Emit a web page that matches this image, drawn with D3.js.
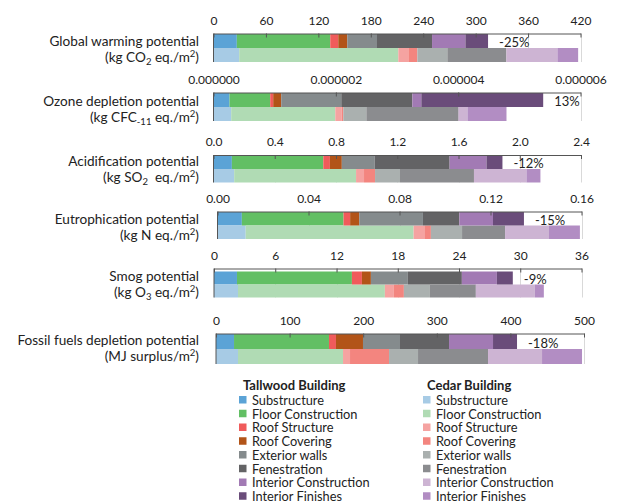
<!DOCTYPE html>
<html>
<head>
<meta charset="utf-8">
<script src="https://cdn.jsdelivr.net/npm/d3@7"></script>
<style>
  body { margin: 0; background: #fff; }
  svg text { font-family: Lato, "Open Sans", sans-serif; fill: #222; }
</style>
</head>
<body>
<svg id="chart" width="617" height="504"></svg>
<script>
// building elements (stack order)
const components = ["Substructure", "Floor Construction", "Roof Structure", "Roof Covering",
    "Exterior walls", "Fenestration", "Interior Construction", "Interior Finishes"];
const buildings = ["Tallwood Building", "Cedar Building"];

const tallwoodColors = ["#5ba3d6", "#62bf64", "#f05b5b", "#b25418", "#858b8d", "#636365", "#a27ab4", "#6a4c7a"];
const cedarColors = ["#a7cbe5", "#b0dbb4", "#f5a3a1", "#f3857f", "#aab0af", "#8b8c8f", "#cdb4d3", "#b28dc3"];

// impact categories
const titles = ["Global warming potential", "Ozone depletion potential", "Acidification potential",
    "Eutrophication potential", "Smog potential", "Fossil fuels depletion potential"];

// values per component
const gwpTallwood = [26.7, 106.9, 9.2, 10.3, 34.0, 63.0, 38.2, 25.9];
const gwpCedar = [29.4, 182.1, 11.5, 10.3, 34.3, 67.6, 58.4, 23.7];
const odpTallwood = [0.262e-6, 0.665e-6, 0.049e-6, 0.131e-6, 0.982e-6, 1.162e-6, 0.147e-6, 1.992e-6];
const odpCedar = [0.289e-6, 1.702e-6, 0.104e-6, 0.027e-6, 0.377e-6, 1.506e-6, 0.147e-6, 0.638e-6];
const apTallwood = [0.120, 0.597, 0.043, 0.078, 0.215, 0.489, 0.241, 0.104];
const apCedar = [0.135, 0.796, 0.052, 0.072, 0.163, 0.483, 0.343, 0.091];
const epTallwood = [0.0107, 0.0447, 0.0029, 0.0040, 0.0280, 0.0160, 0.0148, 0.0136];
const epCedar = [0.0124, 0.0738, 0.0050, 0.0026, 0.0137, 0.0189, 0.0193, 0.0136];
const smogTallwood = [2.25, 11.26, 0.98, 0.88, 3.62, 5.29, 3.43, 1.56];
const smogCedar = [2.35, 14.39, 0.88, 0.98, 2.55, 4.50, 5.78, 0.88];
const fossilTallwood = [24.5, 129.0, 9.5, 36.7, 50.3, 66.6, 59.8, 32.6];
const fossilCedar = [29.9, 142.7, 9.5, 53.0, 39.4, 95.1, 73.4, 54.3];

const tallwoodValues = [gwpTallwood, odpTallwood, apTallwood, epTallwood, smogTallwood, fossilTallwood];
const cedarValues = [gwpCedar, odpCedar, apCedar, epCedar, smogCedar, fossilCedar];

// axes
const axisTicks = [
    [0, 60, 120, 180, 240, 300, 360, 420],
    [0, 0.000002, 0.000004, 0.000006],
    [0, 0.4, 0.8, 1.2, 1.6, 2.0, 2.4],
    [0, 0.04, 0.08, 0.12, 0.16],
    [0, 6, 12, 18, 24, 30, 36],
    [0, 100, 200, 300, 400, 500]
];
const tickFormats = [".0f", ".6f", ".1f", ".2f", ".0f", ".0f"];
const changeLabels = ["-25%", "13%", "-12%", "-15%", "-9%", "-18%"];

// unit lines: [text, normal / sub / sup]
const units = [
    [["(kg CO", "n"], ["2", "sub"], [" eq./m", "n"], ["2", "sup"], [")", "n"]],
    [["(kg CFC", "n"], ["-11", "sub"], [" eq./m", "n"], ["2", "sup"], [")", "n"]],
    [["(kg SO", "n"], ["2", "sub"], ["  eq./m", "n"], ["2", "sup"], [")", "n"]],
    [["(kg N eq./m", "n"], ["2", "sup"], [")", "n"]],
    [["(kg O", "n"], ["3", "sub"], [" eq./m", "n"], ["2", "sup"], [")", "n"]],
    [["(MJ surplus/m", "n"], ["2", "sup"], [")", "n"]]
];

const svg = d3.select("#chart");
// panel layout
const axisYs = [33.5, 92.5, 155, 211.5, 268.5, 333.5];
const xRanges = [[213.5, 580.5], [213.5, 580.5], [213.5, 581], [217.5, 581.5], [214, 581.5], [216, 584]];
const labelDy = [7.5, 8, 5.5, 7.5, 7.5, 6];
const barH = [14, 14, 13.5, 13.5, 13, 15];
const labelSize = 13.6;
const tickSize = 12;

titles.forEach((title, i) => {
    const top = axisYs[i];
    const ticks = axisTicks[i];
    const x = d3.scaleLinear()
        .domain([0, ticks[ticks.length - 1]])
        .range(xRanges[i]);
    const barTop = i === 4 ? top + 3 : top + 0.5;
    const y = d3.scaleBand()
        .domain(buildings)
        .range([barTop, barTop + 2 * barH[i]]);
    const bottom = barTop + 2 * barH[i];

    const g = svg.append("g");

    // gridlines
    g.selectAll(".grid")
        .data(ticks.slice(1))
        .enter()
        .append("line")
        .attr("x1", d => Math.round(x(d)) + 0.5)
        .attr("x2", d => Math.round(x(d)) + 0.5)
        .attr("y1", top)
        .attr("y2", bottom)
        .style("stroke", "#d9d9d9");

    // stacked bars
    const rows = buildings.map((b, bi) => {
        const vals = bi === 0 ? tallwoodValues[i] : cedarValues[i];
        const row = { building: b };
        components.forEach((c, ci) => row[c] = vals[ci]);
        return row;
    });
    const stacked = d3.stack().keys(components)(rows);

    stacked.forEach((layer, ci) => {
        g.selectAll(".seg-" + ci)
            .data(layer)
            .enter()
            .append("rect")
            .attr("x", d => x(d[0]))
            .attr("y", d => y(d.data.building))
            .attr("width", d => x(d[1]) - x(d[0]))
            .attr("height", y.bandwidth())
            .style("fill", (d, bi) => bi === 0 ? tallwoodColors[ci] : cedarColors[ci]);
    });

    // axis on top
    const axis = d3.axisTop(x)
        .tickValues(ticks)
        .tickFormat(d3.format(tickFormats[i]))
        .tickSizeInner(-4)
        .tickSizeOuter(0)
        .tickPadding(9);
    const ag = g.append("g")
        .attr("transform", `translate(0,${top})`)
        .call(axis);
    ag.select(".domain").style("stroke", "#555");
    ag.selectAll(".tick line").style("stroke", "#555");
    ag.selectAll(".tick text")
        .style("font-size", tickSize + "px")
        .style("font-family", "Lato, sans-serif")
        .attr("fill", "#222");

    // left edge of the category axis
    g.append("line")
        .attr("x1", xRanges[i][0]).attr("x2", xRanges[i][0])
        .attr("y1", top).attr("y2", bottom)
        .style("stroke", "#555");

    // change label
    const tallEnd = d3.sum(tallwoodValues[i]);
    g.append("text")
        .attr("x", x(tallEnd) + 11)
        .attr("y", y(buildings[0]) + y.bandwidth() / 2 + 1)
        .attr("dominant-baseline", "central")
        .style("font-size", "13px")
        .text(changeLabels[i]);

    // category label
    g.append("text")
        .attr("x", 199)
        .attr("y", top + labelDy[i])
        .attr("text-anchor", "end")
        .attr("dominant-baseline", "central")
        .style("font-size", labelSize + "px")
        .text(title);

    const ut = g.append("text")
        .attr("x", 199)
        .attr("y", top + labelDy[i] + 21)
        .attr("text-anchor", "end")
        .style("font-size", labelSize + "px");
    let shift = 0;
    units[i].forEach(([str, kind]) => {
        let dy = 0;
        if (kind === "sub") dy = 3 - shift;
        else if (kind === "sup") dy = -5 - shift;
        else dy = -shift;
        shift += dy;
        ut.append("tspan")
            .attr("dy", dy)
            .style("font-size", kind === "n" ? labelSize + "px" : "9.5px")
            .style("white-space", "pre")
            .text(str);
    });
});

// legend
const legendTop = 384.5;
const rowH = 13.75;
const legendCols = [
    { x: 239, title: buildings[0], colors: tallwoodColors },
    { x: 423, title: buildings[1], colors: cedarColors }
];
legendCols.forEach(col => {
    const lg = svg.append("g");
    lg.append("text")
        .attr("x", col.x + 4)
        .attr("y", legendTop)
        .attr("dominant-baseline", "central")
        .style("font-size", "13px")
        .style("font-weight", "bold")
        .text(col.title);
    lg.selectAll("rect")
        .data(components)
        .enter()
        .append("rect")
        .attr("x", col.x)
        .attr("y", (d, k) => legendTop + (k + 1) * rowH + 1.5 - 3.75)
        .attr("width", 7.5)
        .attr("height", 7.5)
        .style("fill", (d, k) => col.colors[k]);
    lg.selectAll(".lt")
        .data(components)
        .enter()
        .append("text")
        .attr("x", col.x + 13)
        .attr("y", (d, k) => legendTop + (k + 1) * rowH + 1.5)
        .attr("dominant-baseline", "central")
        .style("font-size", "12.8px")
        .text(d => d);
});
</script>
</body>
</html>
